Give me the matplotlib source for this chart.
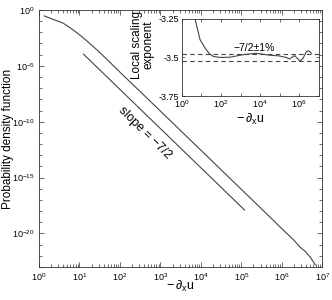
import numpy as np
import matplotlib
matplotlib.use('Agg')
import matplotlib.pyplot as plt
from matplotlib.ticker import FixedLocator, NullFormatter

plt.rcParams['font.family'] = ['Liberation Sans', 'DejaVu Sans']
plt.rcParams['mathtext.default'] = 'regular'

# main PDF (log10 values)
pdf_logx = [0.13, 0.3, 0.5, 0.6, 0.8, 1.0, 1.2, 1.43, 1.7, 2.08, 2.5, 3.0, 3.5,
            4.0, 4.5, 5.0, 5.5, 6.04, 6.3, 6.46, 6.58, 6.7, 6.83]
pdf_logy = [-0.54, -0.78, -1.05, -1.19, -1.68, -2.22, -2.83, -3.57, -4.5, -5.85,
            -7.3, -9.05, -10.8, -12.55, -14.3, -16.05, -17.8, -19.7, -20.6,
            -21.25, -21.6, -22.1, -22.8]

# reference power law, slope -7/2
ref_logx = [1.10, 5.08]
ref_logy = [-3.96, -17.9]

# local scaling exponent (inset)
lse_logx = [0.45, 0.67, 0.93, 1.19, 1.41, 1.62, 1.97, 2.49, 3.0, 3.26, 3.78, 4.2,
            4.46, 4.97, 5.34, 5.5, 5.77, 6.03, 6.2, 6.37, 6.48, 6.63]
lse_val = [-3.10, -3.25, -3.386, -3.44, -3.477, -3.494, -3.50, -3.498, -3.485,
           -3.48, -3.473, -3.48, -3.485, -3.49, -3.50, -3.51, -3.488, -3.523,
           -3.505, -3.462, -3.456, -3.473]
band = [-3.475, -3.525]

LINE = '#444444'

fig = plt.figure(figsize=(3.32, 3.0), dpi=100)

# main axis
ax = fig.add_axes([0.1175, 0.11, 0.853, 0.857])
ax.loglog(10.0 ** np.array(pdf_logx), 10.0 ** np.array(pdf_logy), color=LINE, lw=0.8)
ax.loglog(10.0 ** np.array(ref_logx), 10.0 ** np.array(ref_logy), color=LINE, lw=0.8)
ax.set_xlim(1, 1e7)
ax.set_ylim(1e-23, 1)
ax.set_xticks([10.0 ** k for k in range(8)])
ax.yaxis.set_major_locator(FixedLocator([10.0 ** k for k in range(-20, 1, 5)]))
ax.yaxis.set_minor_locator(FixedLocator([10.0 ** k for k in range(-23, 1)]))
ax.yaxis.set_minor_formatter(NullFormatter())
ax.tick_params(which='both', direction='in', top=True, right=True, labelsize=6.5,
               width=0.5, color='#333333')
ax.tick_params(which='major', length=3.5, pad=3)
ax.tick_params(which='minor', length=2)
for s in ax.spines.values():
  s.set_linewidth(0.6)
  s.set_color('#333333')
ax.set_ylabel('Probability density function', fontsize=8.5)
ax.yaxis.set_label_coords(-0.09, 0.5)
ax.set_xlabel(r'$-\,\partial_x u$', fontsize=9)
ax.xaxis.set_label_coords(0.5, -0.048)
ax.text(10 ** 2.62, 10 ** -10.98, 'slope = \u22127/2', fontsize=9, rotation=-44.5,
        ha='center', va='center', rotation_mode='anchor')

# inset
ins = fig.add_axes([0.548, 0.68, 0.412, 0.257])
ins.semilogx(10.0 ** np.array(lse_logx), lse_val, color=LINE, lw=0.8)
for b in band:
  ins.axhline(b, color=LINE, lw=0.8, ls=(0, (4, 3)))
ins.set_xlim(1, 1e7)
ins.set_ylim(-3.75, -3.25)
ins.set_xticks([1, 1e2, 1e4, 1e6])
ins.xaxis.set_minor_locator(FixedLocator([10, 1e3, 1e5, 1e7]))
ins.xaxis.set_minor_formatter(NullFormatter())
ins.set_yticks([-3.75, -3.5, -3.25])
ins.set_yticklabels(['-3.75', '-3.5', '-3.25'])
ins.tick_params(which='both', direction='in', top=True, right=True, labelsize=6.5,
                width=0.5, length=2.5, pad=2, color='#333333')
for s in ins.spines.values():
  s.set_linewidth(0.6)
  s.set_color('#333333')
ins.set_xlabel(r'$-\,\partial_x u$', fontsize=9, labelpad=1)
ins.set_ylabel('Local scaling\nexponent', fontsize=8.5, linespacing=1.0)
ins.yaxis.set_label_coords(-0.20, 0.66)
ins.text(10 ** 3.68, -3.438, '\u22127/2\u00b11%', fontsize=7.5, ha='center', va='center')

fig.savefig('out.png', dpi=100)
